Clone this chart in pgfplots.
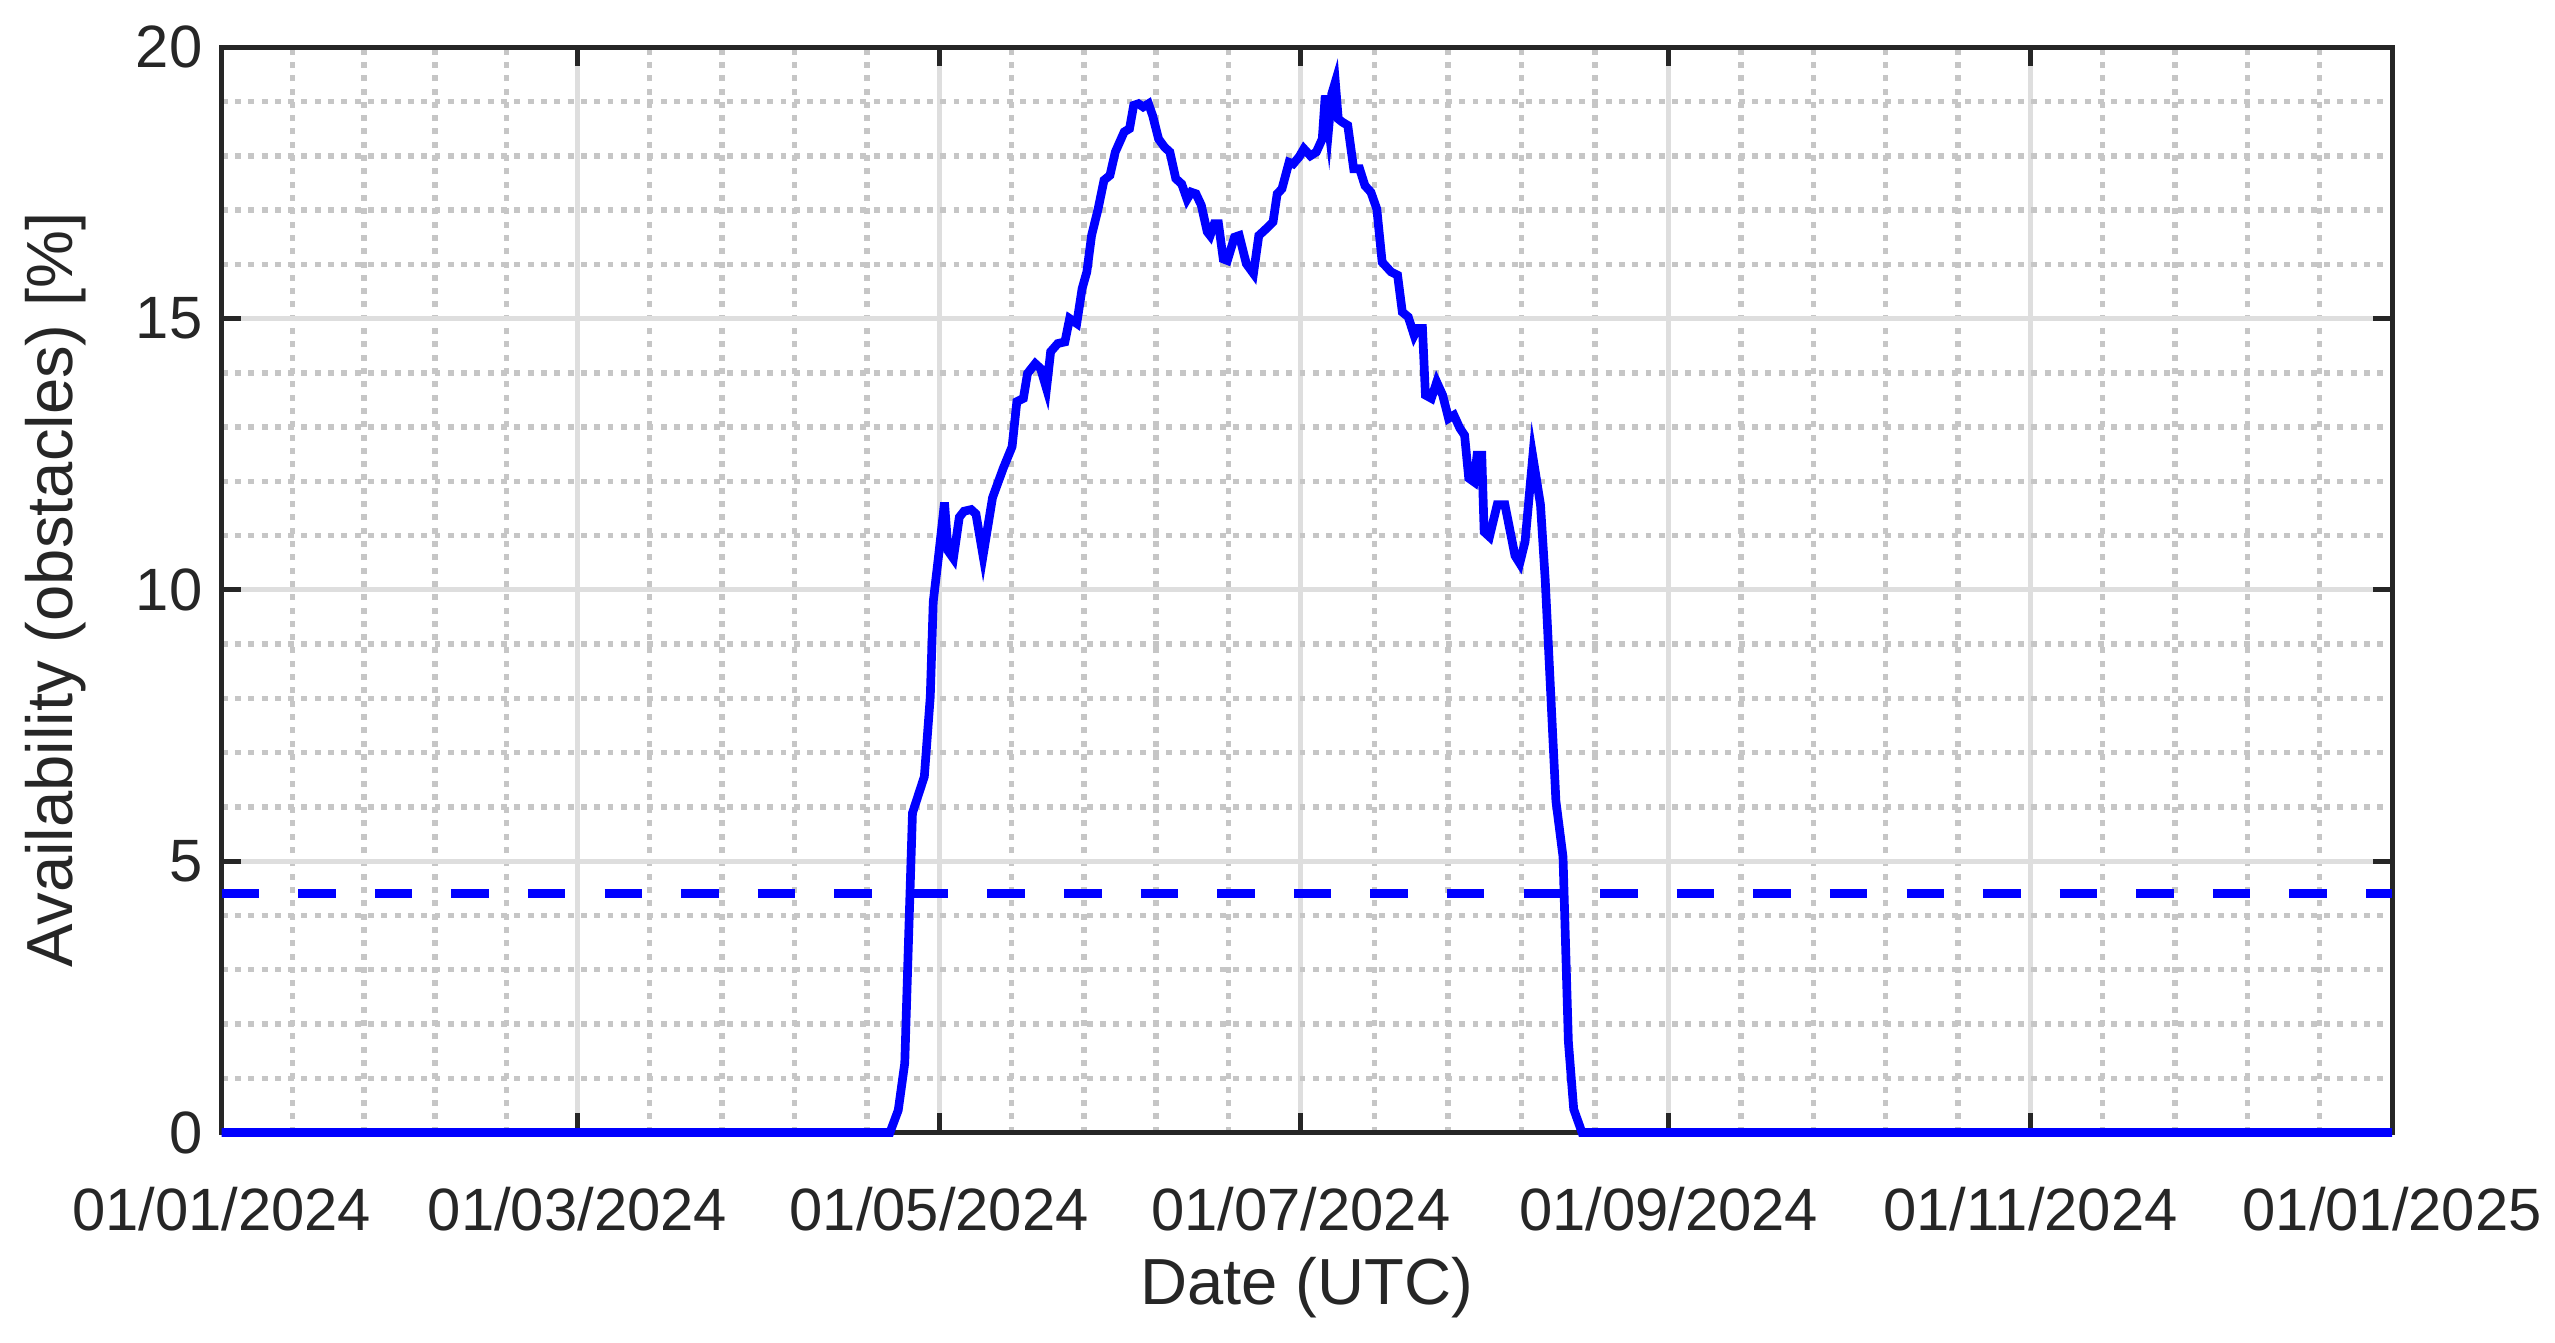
\documentclass[border=0pt]{standalone}
\usepackage{fontspec}
\setmainfont{Liberation Sans}
\usepackage{pgfplots}
\pgfplotsset{compat=1.18}
\definecolor{axgray}{RGB}{38,38,38}
\definecolor{majgrid}{RGB}{222,222,222}
\definecolor{mingrid}{RGB}{198,198,198}
\begin{document}
\begin{tikzpicture}
\begin{axis}[
  scale only axis,
  width=399.6pt, height=199.8pt,
  xmin=0, xmax=366, ymin=0, ymax=20,
  clip=false,
  xtick={0,60,121,182,244,305,366},
  xticklabels={01/01/2024,01/03/2024,01/05/2024,01/07/2024,01/09/2024,01/11/2024,01/01/2025},
  minor xtick={12,24,36,48,72.2,84.4,96.6,108.8,133.2,145.4,157.6,169.8,194.4,206.8,219.2,231.6,256.2,268.4,280.6,292.8,317.2,329.4,341.6,353.8},
  ytick={0,5,10,15,20},
  minor ytick={1,2,3,4,6,7,8,9,11,12,13,14,16,17,18,19},
  grid=both,
  major grid style={majgrid, line width=0.9pt},
  minor grid style={mingrid, line width=1.0pt, dash pattern=on 1.1pt off 1.35pt},
  tick align=inside,
  major tick length=3.5pt,
  minor tick length=0pt,
  axis line style={axgray, line width=0.9pt},
  every tick/.style={axgray, line width=0.9pt},
  tick label style={font=\fontsize{11}{13}\selectfont, text=axgray},
  /pgf/number format/assume math mode=true,
  xticklabel style={anchor=center, yshift=-14.2pt},
  xlabel={Date (UTC)},
  ylabel={Availability (obstacles) [\%]},
  label style={font=\fontsize{12}{14}\selectfont, text=axgray},
  xlabel style={at={(axis description cs:0.5,-0.1426)}, anchor=center},
  ylabel style={at={(axis description cs:-0.0766,0.5)}, anchor=center},
]
\addplot[blue, line width=1.6pt, dash pattern=on 6.9pt off 7.2pt] coordinates {(0,4.41) (366,4.41)};
\addplot[blue, line width=1.6pt] coordinates {
(0,0) (112.7,0) (114.1,0.41) (115.2,1.28) (115.8,3.43) (116.5,5.89) (118.5,6.56)
(119.5,8.03) (120.0,9.78) (121.0,10.72) (121.9,11.61) (122.5,10.72) (123.4,10.58)
(124.4,11.34) (125.2,11.45) (126.4,11.48) (127.2,11.40) (128.4,10.63) (130.0,11.70)
(131.8,12.24) (133.3,12.64) (134.1,13.47) (135.2,13.53) (135.9,13.99) (137.2,14.17)
(138.1,14.08) (139.1,13.71) (139.8,14.39) (141.0,14.54) (142.2,14.57) (143.0,15.00)
(144.2,14.91) (145.1,15.55) (145.9,15.86) (146.7,16.53) (147.8,17.02) (148.8,17.55)
(149.8,17.64) (150.7,18.07) (152.2,18.44) (153.1,18.50) (153.8,18.93) (154.6,18.96)
(155.4,18.90) (156.3,18.96) (157.0,18.74) (158.0,18.31) (159.0,18.16) (159.9,18.07)
(160.9,17.58) (161.9,17.48) (162.8,17.20) (163.5,17.33) (164.3,17.30) (165.2,17.09)
(166.2,16.60) (166.7,16.53) (167.4,16.75) (168.1,16.75) (168.9,16.10) (169.6,16.07)
(170.8,16.50) (171.6,16.53) (172.8,16.01) (174.0,15.83) (174.9,16.53) (175.9,16.63)
(177.3,16.78) (178.0,17.30) (178.8,17.39) (180.0,17.88) (180.7,17.85) (181.7,17.98)
(182.5,18.13) (183.6,18.00) (184.6,18.07) (185.6,18.31) (186.1,19.11) (186.7,18.53)
(187.2,19.14) (187.8,19.36) (188.3,18.68) (189.0,18.62) (189.9,18.56) (190.9,17.76)
(191.9,17.76) (192.8,17.45) (193.8,17.33) (194.8,17.02) (195.7,16.04) (197.2,15.86)
(198.3,15.80) (199.1,15.12) (200.1,15.03) (201.1,14.69) (201.7,14.82) (202.5,14.82)
(203.0,13.59) (204.0,13.53) (204.9,13.83) (205.9,13.59) (206.9,13.16) (207.8,13.22)
(208.8,12.98) (209.6,12.85) (210.3,12.06) (211.2,11.99) (211.7,12.48) (212.5,12.48)
(212.9,11.07) (213.8,10.98) (215.1,11.57) (216.4,11.57) (218.1,10.63) (218.9,10.49)
(219.8,10.89) (221.1,12.46) (222.4,11.57) (223.2,10.18) (225.0,6.11) (226.2,5.08)
(227.1,1.68) (228.0,0.43) (229.4,0) (366,0)
};
\end{axis}
\pgfresetboundingbox
\useasboundingbox (-40.8pt,-38.7pt) rectangle (429.6pt,208.5pt);
\end{tikzpicture}
\end{document}
